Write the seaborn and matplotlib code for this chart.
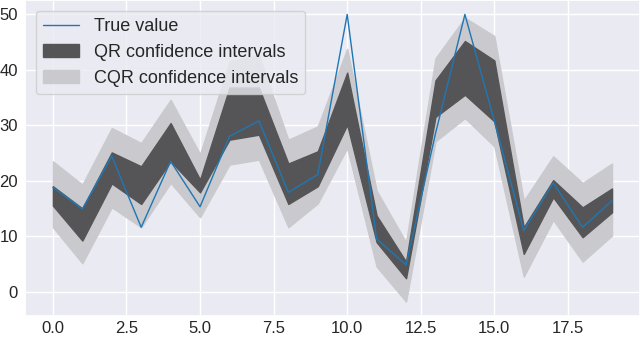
import numpy as np
import matplotlib
matplotlib.use('Agg')
import matplotlib.pyplot as plt
import seaborn as sns
import pandas as pd

sns.set_theme(style="darkgrid")
plt.rcParams['font.family'] = ['Liberation Sans', 'DejaVu Sans']

# values
x_idx = list(range(20))
true_value = [18.8, 14.9, 24.4, 11.6, 23.5, 15.3, 28.0, 30.8, 17.9, 21.1,
              50.0, 9.5, 4.8, 28.5, 50.0, 30.8, 11.0, 19.6, 11.6, 16.4]
qr_low = [15.5, 9.2, 19.5, 15.8, 23.5, 17.9, 27.4, 28.3, 15.8, 19.0,
          30.1, 8.9, 2.4, 31.5, 35.5, 30.7, 6.8, 17.0, 9.8, 14.3]
qr_high = [19.0, 15.0, 25.1, 22.6, 30.4, 20.2, 36.8, 36.8, 23.1, 25.3,
           39.5, 13.7, 5.4, 38.1, 45.2, 41.7, 11.6, 20.1, 15.2, 18.6]
cqr_low = [11.6, 5.1, 15.2, 11.6, 19.6, 13.4, 22.9, 23.8, 11.6, 15.9,
           25.9, 4.5, -1.8, 27.1, 31.3, 26.2, 2.7, 12.9, 5.4, 10.1]
cqr_high = [23.5, 19.3, 29.5, 26.8, 34.6, 24.8, 41.5, 42.6, 27.4, 29.8,
            43.8, 18.2, 8.9, 42.1, 49.4, 46.1, 16.4, 24.4, 19.6, 23.1]

df = pd.DataFrame({'x': x_idx, 'true': true_value})

fig, ax = plt.subplots(figsize=(6.4, 3.39), dpi=100)
fig.subplots_adjust(left=0.039, right=1.0, top=1.0, bottom=0.068)

sns.lineplot(data=df, x='x', y='true', ax=ax, color='#1f77b4', lw=1, label='True value', zorder=4)
ax.fill_between(x_idx, qr_low, qr_high, color='#555557', label='QR confidence intervals', zorder=2)
ax.fill_between(x_idx, cqr_low, cqr_high, color='#c9c9ce', label='CQR confidence intervals', zorder=1)

ax.set_xlabel('')
ax.set_ylabel('')
ax.tick_params(labelsize=12, length=0, pad=5)
ax.tick_params(axis='x', pad=3.5)
ax.set_xticks([0, 2.5, 5, 7.5, 10, 12.5, 15, 17.5])
ax.set_xticklabels(['0.0', '2.5', '5.0', '7.5', '10.0', '12.5', '15.0', '17.5'])
ax.set_yticks([0, 10, 20, 30, 40, 50])
ax.set_xlim(-0.95, 19.95)
ax.set_ylim(-4.4, 52.6)
ax.legend(loc='upper left', fontsize=13, borderaxespad=0.6)

plt.savefig('out.png', dpi=100)
